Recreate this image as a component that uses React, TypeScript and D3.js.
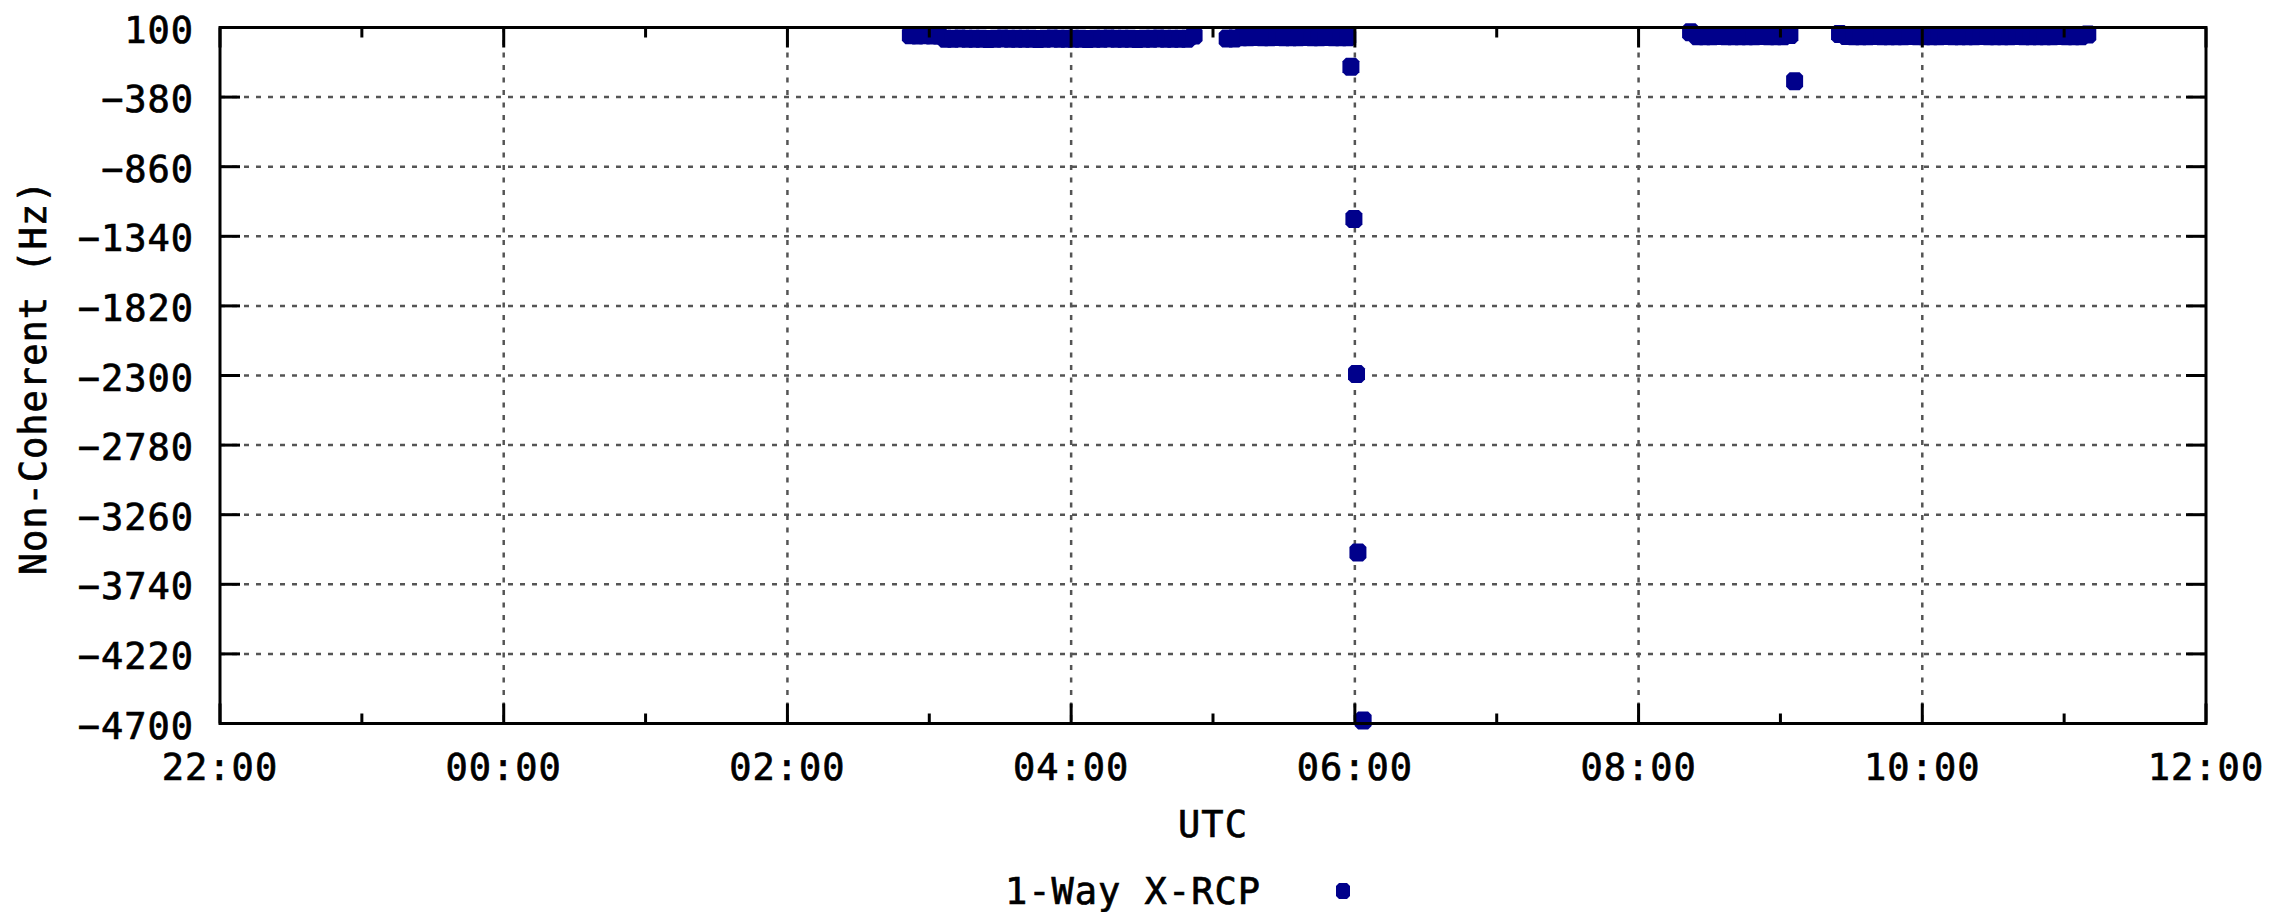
import React from "react";
import * as d3 from "d3";

// ---- data ----
const xTickLabels = ["22:00", "00:00", "02:00", "04:00", "06:00", "08:00", "10:00", "12:00"];
const xMinorLabels = ["23:00", "01:00", "03:00", "05:00", "07:00", "09:00", "11:00"];
const yTicks = [100, -380, -860, -1340, -1820, -2300, -2780, -3260, -3740, -4220, -4700];

// passes: start time, sample cadence (minutes), and sampled values (Hz)
const passStarts = ["02:52", "05:06", "08:22", "09:25"];
const passStepMin = [3, 3, 3, 3];
const pass1Values = [47, 45, 46, 44, 45, 23, 22, 24, 23, 22, 23, 21, 22, 24, 23, 22, 23, 22, 21, 23, 24,
  22, 23, 22, 23, 21, 22, 23, 24, 22, 23, 22, 21, 23, 22, 24, 23, 22, 23, 22, 44];
const pass2Values = [24, 25, 33, 32, 34, 33, 32, 34, 33, 32, 33, 34, 32, 33, 34, 33, 32, 33];
const pass3Values = [68, 40, 39, 40, 41, 40, 39, 40, 40, 39, 41, 40, 39, 40, 48];
const pass4Values = [55, 41, 40, 39, 40, 41, 40, 39, 40, 40, 41, 39, 40, 40, 39, 41, 40, 40, 39, 40, 41,
  40, 39, 40, 40, 41, 39, 40, 40, 39, 40, 41, 40, 39, 40, 52];

const outlierTimes = ["05:58:20", "05:59:36", "06:00:42", "06:01:18", "06:03:30", "09:06:00"];
const outlierValues = [-170, -1220, -2290, -3520, -4680, -270];

const seriesName = "1-Way X-RCP";
const xLabel = "UTC";
const yLabel = "Non-Coherent (Hz)";

// ---- helpers ----
function toDate(t: string): Date {
  const [h, m, s] = t.split(":").map(Number);
  const day = h >= 22 ? 1 : 2;
  return new Date(Date.UTC(2000, 0, day, h, m, s || 0));
}

const W = 2274, H = 912;
const L = 220, R = 2206, T = 27.5, B = 723.5;
const x = d3.scaleUtc().domain([toDate("22:00"), toDate("12:00")]).range([L, R]);
const y = d3.scaleLinear().domain([-4700, 100]).range([B, T]);

const passValues = [pass1Values, pass2Values, pass3Values, pass4Values];
const points: { t: Date; v: number }[] = [];
passValues.forEach((vals, pi) => {
  const st = toDate(passStarts[pi]);
  vals.forEach((v, i) => {
    points.push({ t: d3.utcMinute.offset(st, i * passStepMin[pi]), v });
  });
});
outlierTimes.forEach((t, i) => points.push({ t: toDate(t), v: outlierValues[i] }));

// octagonal point marker (like a pixel-rendered filled circle)
function marker(cx: number, cy: number, hw = 8.5, hh = 9, c = 3.5): string {
  const p = d3.path();
  p.moveTo(cx - hw + c, cy - hh);
  p.lineTo(cx + hw - c, cy - hh);
  p.lineTo(cx + hw, cy - hh + c);
  p.lineTo(cx + hw, cy + hh - c);
  p.lineTo(cx + hw - c, cy + hh);
  p.lineTo(cx - hw + c, cy + hh);
  p.lineTo(cx - hw, cy + hh - c);
  p.lineTo(cx - hw, cy - hh + c);
  p.closePath();
  return p.toString();
}

const FONT = "'DejaVu Sans Mono', 'Liberation Mono', monospace";
const PT = "#00008b";
const GRID = "#555";

export default function App() {
  const majors = xTickLabels.map(toDate);
  const minors = xMinorLabels.map(toDate);
  const textProps = {
    fontFamily: FONT, fontSize: 37, letterSpacing: 1, fill: "#000",
    stroke: "#000", strokeWidth: 0.7,
  } as any;
  return (
    <svg width={W} height={H} style={{ position: "absolute", left: 0, top: 0, background: "#fff" }}>
      <rect x={0} y={0} width={W} height={H} fill="#fff" />
      {/* grid */}
      {yTicks.slice(1, -1).map((v) => (
        <line key={"gy" + v} x1={L} x2={R} y1={y(v)} y2={y(v)} stroke={GRID} strokeWidth={2.5} strokeDasharray="5 7" />
      ))}
      {majors.slice(1, -1).map((d, i) => (
        <line key={"gx" + i} x1={x(d)} x2={x(d)} y1={T} y2={B} stroke={GRID} strokeWidth={2.5} strokeDasharray="5 7.5" />
      ))}
      {/* points */}
      {points.map((p, i) => (
        <path key={"p" + i} d={marker(x(p.t), y(p.v))} fill={PT} />
      ))}
      {/* border */}
      <rect x={L} y={T} width={R - L} height={B - T} fill="none" stroke="#000" strokeWidth={3} />
      {/* ticks */}
      {majors.map((d, i) => (
        <g key={"mt" + i}>
          <line x1={x(d)} x2={x(d)} y1={B} y2={B - 20} stroke="#000" strokeWidth={3} />
          <line x1={x(d)} x2={x(d)} y1={T} y2={T + 20} stroke="#000" strokeWidth={3} />
        </g>
      ))}
      {minors.map((d, i) => (
        <g key={"nt" + i}>
          <line x1={x(d)} x2={x(d)} y1={B} y2={B - 10} stroke="#000" strokeWidth={3} />
          <line x1={x(d)} x2={x(d)} y1={T} y2={T + 10} stroke="#000" strokeWidth={3} />
        </g>
      ))}
      {yTicks.map((v) => (
        <g key={"yt" + v}>
          <line x1={L} x2={L + 20} y1={y(v)} y2={y(v)} stroke="#000" strokeWidth={3} />
          <line x1={R} x2={R - 20} y1={y(v)} y2={y(v)} stroke="#000" strokeWidth={3} />
        </g>
      ))}
      {/* tick labels */}
      {yTicks.map((v) => (
        <text key={"yl" + v} x={194} y={y(v) + 15} textAnchor="end" {...textProps}>
          {String(v).replace("-", "\u2212")}
        </text>
      ))}
      {majors.map((d, i) => (
        <text key={"xl" + i} x={x(d)} y={780} textAnchor="middle" {...textProps}>
          {d3.utcFormat("%H:%M")(d)}
        </text>
      ))}
      {/* axis titles */}
      <text x={(L + R) / 2} y={837} textAnchor="middle" {...textProps}>{xLabel}</text>
      <text transform={`translate(46, ${(T + B) / 2 + 2}) rotate(-90)`} textAnchor="middle" {...textProps}>
        {yLabel}
      </text>
      {/* legend */}
      <text x={1261} y={904} textAnchor="end" {...textProps}>{seriesName}</text>
      <path d={marker(1343, 891, 7, 8, 3)} fill={PT} />
    </svg>
  );
}
